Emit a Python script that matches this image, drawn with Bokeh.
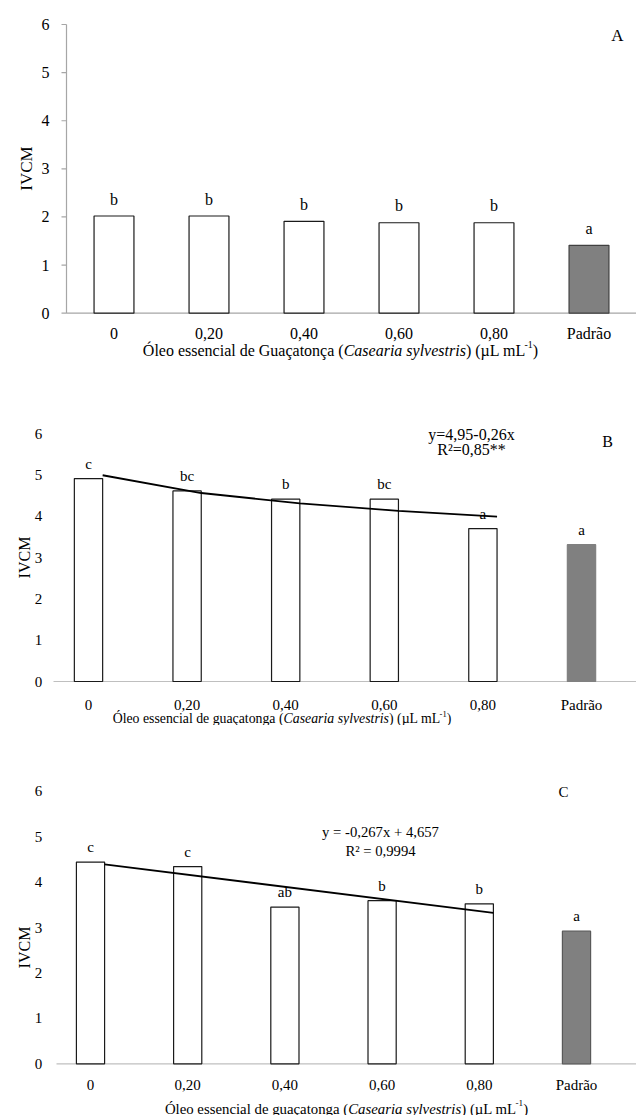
import math
from bokeh.plotting import figure
from bokeh.layouts import column
from bokeh.models import ColumnDataSource, Range1d
from bokeh.core.properties import value
from bokeh.embed import file_html
from bokeh.resources import INLINE

# ---------------- data ----------------
categories = ["0", "0,20", "0,40", "0,60", "0,80", "Padrão"]
y_ticks = [0, 1, 2, 3, 4, 5, 6]
y_tick_labels = ["0", "1", "2", "3", "4", "5", "6"]

a_values = [2.02, 2.02, 1.91, 1.88, 1.88, 1.41]
a_letters = ["b", "b", "b", "b", "b", "a"]

b_values = [4.91, 4.61, 4.41, 4.41, 3.70, 3.31]
b_letters = ["c", "bc", "b", "bc", "a", "a"]
b_trend = [4.99, 4.56, 4.31, 4.13, 3.99]          # trend line read at doses 0..0,80
b_equation = ["y=4,95-0,26x", "R²=0,85**"]

c_values = [4.44, 4.34, 3.45, 3.59, 3.52, 2.92]
c_letters = ["c", "c", "ab", "b", "b", "a"]
c_trend = [4.39, 3.32]                            # trend line read at doses 0 and 0,80
c_trend_idx = [0, 4]
c_equation = ["y = -0,267x + 4,657", "R² = 0,9994"]

y_title = "IVCM"
title_a = [("Óleo essencial de Guaçatonça (", False, False), ("Casearia sylvestris", True, False),
           (") (µL mL", False, False), ("-1", False, True), (")", False, False)]
title_bc = [("Óleo essencial de guaçatonga (", False, False), ("Casearia sylvestris", True, False),
            (") (µL mL", False, False), ("-1", False, True), (")", False, False)]

FONT = "Liberation Serif"

# Times / Liberation Serif advance widths (per 1000 em), used to lay out the mixed-style title
REG = {' ': 250, '(': 333, ')': 333, 'Ó': 722, 'G': 722, 'L': 611, 'a': 444, 'c': 444, 'd': 500,
       'e': 444, 'g': 500, 'i': 278, 'l': 278, 'm': 778, 'n': 500, 'o': 500, 's': 389, 't': 278,
       'u': 500, 'ç': 444, 'µ': 500, '-': 333, '1': 500}
ITA = {'C': 667, 'a': 500, 's': 389, 'e': 444, 'r': 389, 'i': 278, ' ': 250, 'y': 444, 'l': 278,
       'v': 444, 't': 278}


def text_width(t, italic, size):
    table = ITA if italic else REG
    return sum(table.get(ch, 500) for ch in t) * size / 1000.0


def make_panel(values, letters, g):
    H = g["height"]
    c0, ux = g["cat0_px"], g["cat_px"]            # pixel centre of first category, px per category
    y0, y6 = g["y0_px"], g["y6_px"]               # pixel rows of values 0 and 6
    uy = (y0 - y6) / 6.0

    def X(px):
        return (px - c0) / ux

    def Y(py):
        return (y0 - py) / uy

    p = figure(width=636, height=H, output_backend="svg", toolbar_location=None,
               x_range=Range1d(X(0), X(636)), y_range=Range1d(Y(H), Y(0)),
               x_axis_location=None, y_axis_location=None,
               min_border_left=0, min_border_right=0, min_border_top=0, min_border_bottom=0)
    p.outline_line_color = None
    p.grid.visible = False
    p.background_fill_color = "white"
    p.border_fill_color = "white"

    idx = list(range(len(categories)))
    fs = g["font"]
    txt_kw = dict(text_font=value(FONT), text_color="black")

    # axis lines and ticks
    x_axis_start = X(g["axis_left_px"])
    p.segment(x0=[x_axis_start], y0=[0], x1=[X(636)], y1=[0], line_color=g["xaxis_color"],
              line_width=1.2)
    if g["yaxis_line"]:
        p.segment(x0=[x_axis_start], y0=[0], x1=[x_axis_start], y1=[y_ticks[-1]],
                  line_color="#a6a6a6", line_width=1.2)
        tick_len = 5.0 / ux
        p.segment(x0=[x_axis_start - tick_len] * len(y_ticks), y0=y_ticks,
                  x1=[x_axis_start] * len(y_ticks), y1=y_ticks, line_color="#a6a6a6", line_width=1.2)

    # bars
    fills = ["white"] * 5 + ["#808080"]
    lines = [g["bar_line"]] * 5 + [g["pad_line"]]
    src = ColumnDataSource(dict(x=idx, top=values, fill=fills, line=lines, txt=letters,
                                ty=[v + g["let_off"] / uy for v in values]))
    p.vbar(x="x", top="top", bottom=0, width=g["bar_w"], source=src,
           fill_color="fill", line_color="line", line_width=1.2)

    # significance letters
    p.text(x="x", y="ty", text="txt", source=src, text_align="center", text_baseline="middle",
           text_font_size=f"{fs}px", **txt_kw)

    # tick labels
    p.text(x=[X(g["ytick_px"])] * len(y_ticks), y=y_ticks, text=y_tick_labels,
           text_align="center", text_baseline="middle", text_font_size=f"{fs}px", **txt_kw)
    p.text(x=idx, y=[Y(g["xtick_py"])] * len(idx), text=categories,
           text_align="center", text_baseline="middle", text_font_size=f"{fs}px", **txt_kw)

    # y title
    yx, yy = g["ytitle_pos"]
    p.text(x=[X(yx)], y=[Y(yy)], text=[y_title], angle=math.pi / 2, text_align="center",
           text_baseline="middle", text_font_size=f"{g['ytitle_font']}px", **txt_kw)

    # x title (mixed styles)
    tsize = g["title_font"]
    pieces = g["title"]
    widths = [text_width(t, it, tsize * (0.62 if sup else 1.0)) for t, it, sup in pieces]
    cur = g["title_cx"] - sum(widths) / 2.0
    for (t, it, sup), w in zip(pieces, widths):
        sz = tsize * (0.62 if sup else 1.0)
        py = g["title_py"] - (0.36 * tsize if sup else 0)
        p.text(x=[X(cur)], y=[Y(py)], text=[t], text_align="left", text_baseline="middle",
               text_font_style=value("italic" if it else "normal"), text_font_size=f"{sz:.2f}px",
               **txt_kw)
        cur += w

    # panel tag
    lx, ly = g["tag_pos"]
    p.text(x=[X(lx)], y=[Y(ly)], text=[g["tag"]], text_align="center", text_baseline="middle",
           text_font_size=f"{g['tag_font']}px", **txt_kw)
    return p, X, Y


geo_a = dict(height=370, cat0_px=113.5, cat_px=95.0, y0_px=312.7, y6_px=24.0, axis_left_px=66,
             xaxis_color="#a6a6a6", yaxis_line=True, bar_w=0.42, bar_line="#1a1a1a",
             pad_line="#404040", font=16, let_off=17, ytick_px=45, xtick_py=333,
             ytitle_pos=(26, 168), ytitle_font=17, title=title_a, title_font=16,
             title_cx=340, title_py=350, tag="A", tag_pos=(617, 35), tag_font=17)
pA, _, _ = make_panel(a_values, a_letters, geo_a)

# panel B (figure spans page rows 370..725)
geo_b = dict(height=355, cat0_px=88.0, cat_px=98.6, y0_px=311.0, y6_px=63.0, axis_left_px=53,
             xaxis_color="#bfbfbf", yaxis_line=False, bar_w=0.287, bar_line="#1a1a1a",
             pad_line="#808080", font=15, let_off=15, ytick_px=38, xtick_py=334,
             ytitle_pos=(24, 187), ytitle_font=16, title=title_bc, title_font=13.8,
             title_cx=281.5, title_py=348, tag="B", tag_pos=(607, 71), tag_font=16)
pB, XB, YB = make_panel(b_values, b_letters, geo_b)
pB.line([i + geo_b["bar_w"] / 2 for i in range(len(b_trend))], b_trend,
        line_color="black", line_width=1.8)
pB.text(x=[XB(471)] * 2, y=[YB(63.5), YB(79)], text=b_equation, text_align="center",
        text_baseline="middle", text_font=value(FONT), text_font_size="16px", text_color="black")

# panel C (figure spans page rows 725..1115)
geo_c = dict(height=390, cat0_px=90.0, cat_px=97.2, y0_px=338.3, y6_px=65.7, axis_left_px=56,
             xaxis_color="#bfbfbf", yaxis_line=False, bar_w=0.29, bar_line="#1a1a1a",
             pad_line="#595959", font=15, let_off=15, ytick_px=38, xtick_py=359,
             ytitle_pos=(24, 222), ytitle_font=16, title=title_bc, title_font=14.8,
             title_cx=346, title_py=383, tag="C", tag_pos=(563, 66), tag_font=15)
pC, XC, YC = make_panel(c_values, c_letters, geo_c)
pC.line([i + geo_c["bar_w"] / 2 for i in c_trend_idx], c_trend, line_color="black", line_width=1.8)
pC.text(x=[XC(380)] * 2, y=[YC(106), YC(125)], text=c_equation, text_align="center",
        text_baseline="middle", text_font=value(FONT), text_font_size="14.7px", text_color="black")

layout = column(pA, pB, pC, spacing=0)
open("out.html", "w").write(file_html(layout, INLINE))
